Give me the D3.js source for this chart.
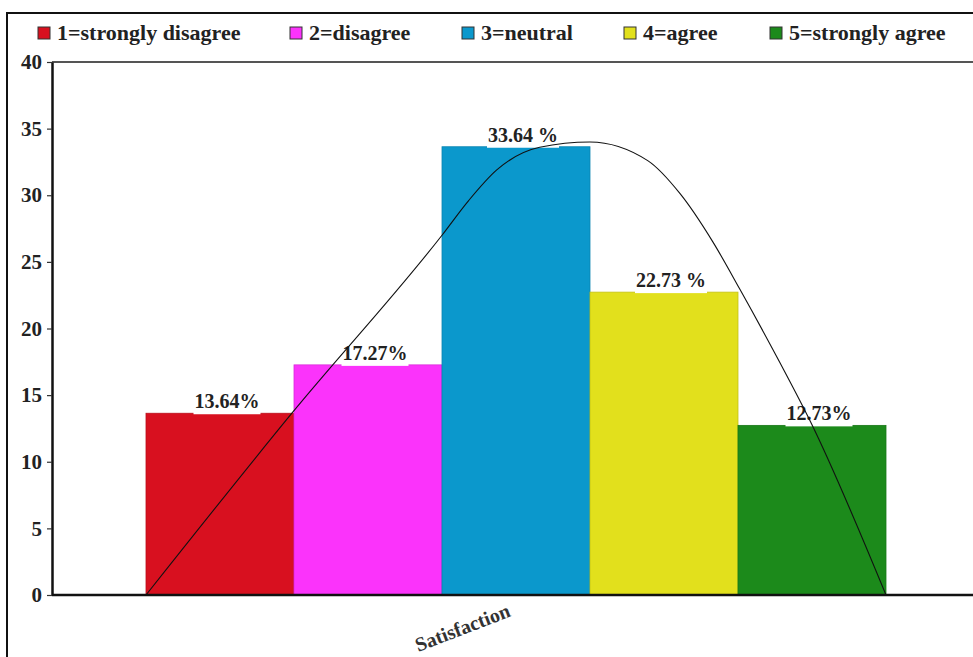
<!DOCTYPE html>
<html>
<head>
<meta charset="utf-8">
<script src="https://cdn.jsdelivr.net/npm/d3@7"></script>
<style>
  html, body { margin: 0; padding: 0; background: #fff; }
  svg { display: block; }
</style>
</head>
<body>
<svg id="chart" width="973" height="657"></svg>
<script>
// Response categories and their share of respondents (%)
const categories = ["1=strongly disagree", "2=disagree", "3=neutral", "4=agree", "5=strongly agree"];
const values = [13.64, 17.27, 33.64, 22.73, 12.73];
const valueLabels = ["13.64%", "17.27%", "33.64 %", "22.73 %", "12.73%"];
const colors = ["#d8101f", "#fb33fb", "#0b98cc", "#e2e01c", "#1c8a1b"];
const yTicks = [0, 5, 10, 15, 20, 25, 30, 35, 40];

// Fitted distribution curve (x in category units, y in %)
const curveX = [0.5, 1.49, 2.5, 2.68, 2.87, 3.16, 3.5, 3.89, 4.11, 4.33, 4.51, 4.78, 4.99, 5.5];
const curveY = [0, 13.7, 27.0, 29.6, 31.9, 33.6, 34.0, 32.6, 30.1, 26.5, 23.0, 17.5, 13.0, 0];

const axisTitle = "Satisfaction";

const FONT = "'Liberation Serif', 'Times New Roman', serif";

const svg = d3.select("#chart");

// outer frame
svg.append("path")
  .attr("d", "M7,657 L7,13 L973,13")
  .attr("fill", "none").attr("stroke", "#111").attr("stroke-width", 2);

const plotLeft = 52, plotRight = 973, plotTop = 62, plotBottom = 595;
const barLeft = 146, barRight = 886;

const x = d3.scaleBand().domain(categories).range([barLeft, barRight]).padding(0);
const xc = d3.scaleLinear().domain([0.5, 5.5]).range([barLeft, barRight]);
const y = d3.scaleLinear().domain([0, 40]).range([plotBottom, plotTop]);

// top border of plot area
svg.append("line")
  .attr("x1", plotLeft).attr("x2", plotRight)
  .attr("y1", plotTop).attr("y2", plotTop)
  .attr("stroke", "#555").attr("stroke-width", 2);

// bars
svg.append("g").selectAll("rect").data(values).join("rect")
  .attr("x", (d, i) => x(categories[i]))
  .attr("y", d => y(d))
  .attr("width", x.bandwidth())
  .attr("height", d => y(0) - y(d))
  .attr("fill", (d, i) => colors[i])
  .attr("stroke", (d, i) => d3.color(colors[i]).darker(0.4))
  .attr("stroke-width", 0.8);

// value labels with a white backing
const lbl = svg.append("g").selectAll("g").data(values).join("g")
  .attr("transform", (d, i) => `translate(${x(categories[i]) + x.bandwidth() / 2 + 7},${y(d) - 5})`);
lbl.append("text")
  .attr("text-anchor", "middle")
  .attr("font-family", FONT)
  .attr("font-weight", "bold")
  .attr("font-size", 20)
  .attr("fill", "#222")
  .text((d, i) => valueLabels[i]);
lbl.each(function () {
  const g = d3.select(this);
  const b = g.select("text").node().getBBox();
  g.insert("rect", "text")
    .attr("x", b.x - 1).attr("y", b.y + 4)
    .attr("width", b.width + 2).attr("height", b.height - 2)
    .attr("fill", "#fff");
});

// fitted curve
const line = d3.line()
  .x(d => xc(d[0]))
  .y(d => y(d[1]))
  .curve(d3.curveMonotoneX);
svg.append("path")
  .datum(curveX.map((v, i) => [v, curveY[i]]))
  .attr("d", line)
  .attr("fill", "none").attr("stroke", "#111").attr("stroke-width", 1.1);

// y axis
const yAxis = svg.append("g")
  .attr("transform", `translate(${plotLeft},0)`)
  .call(d3.axisLeft(y).tickValues(yTicks).tickSize(5).tickSizeOuter(0).tickPadding(5));
yAxis.select(".domain").attr("stroke", "#111").attr("stroke-width", 2.5);
yAxis.selectAll(".tick line").attr("stroke", "#333").attr("stroke-width", 1.2);
yAxis.selectAll(".tick text")
  .attr("font-size", 21)
  .attr("font-family", FONT)
  .attr("font-weight", "bold")
  .attr("fill", "#222");

// x axis baseline
svg.append("line")
  .attr("x1", plotLeft).attr("x2", plotRight)
  .attr("y1", plotBottom).attr("y2", plotBottom)
  .attr("stroke", "#111").attr("stroke-width", 2.5);

// axis title
svg.append("text")
  .attr("transform", "translate(465,634) rotate(-21)")
  .attr("text-anchor", "middle")
  .attr("font-family", FONT)
  .attr("font-weight", "bold")
  .attr("font-size", 20)
  .attr("fill", "#333")
  .text(axisTitle);

// legend
const legendX = [38, 290, 462, 624, 770];
const leg = svg.append("g").selectAll("g").data(categories).join("g")
  .attr("transform", (d, i) => `translate(${legendX[i]},27)`);
leg.append("rect")
  .attr("width", 12).attr("height", 12)
  .attr("fill", (d, i) => colors[i])
  .attr("stroke", "#333").attr("stroke-width", 1);
leg.append("text")
  .attr("x", 19).attr("y", 13)
  .attr("font-family", FONT)
  .attr("font-weight", "bold")
  .attr("font-size", 22)
  .attr("fill", "#222")
  .text(d => d);
</script>
</body>
</html>
